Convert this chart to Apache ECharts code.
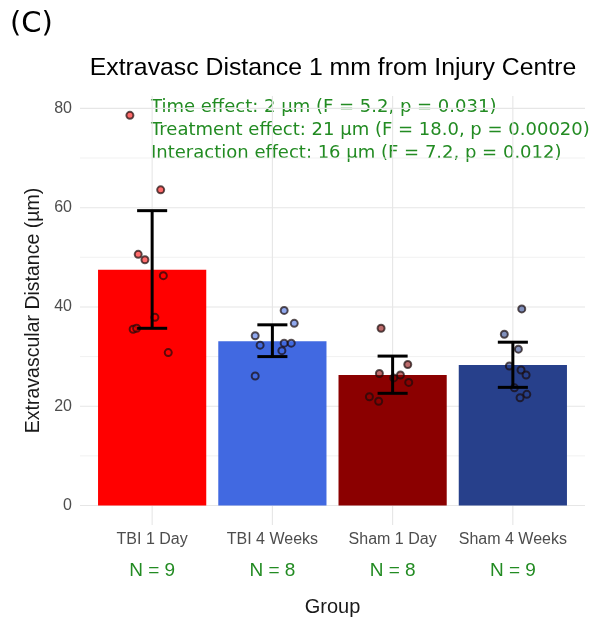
<!DOCTYPE html>
<html>
<head>
<meta charset="utf-8">
<script src="https://cdn.jsdelivr.net/npm/echarts@6/dist/echarts.min.js"></script>
<style>
  html, body { margin: 0; padding: 0; background: #ffffff; }
  #chart { width: 592px; height: 622px; }
</style>
</head>
<body>
<div id="chart"></div>
<script>
// Groups and their summary statistics (extravascular distance, µm)
const categories = ['TBI 1 Day', 'TBI 4 Weeks', 'Sham 1 Day', 'Sham 4 Weeks'];
const groupSizes = [9, 8, 8, 9];
const groupMeans = [47.5, 33.1, 26.3, 28.3];
const ciLower = [35.7, 30.0, 22.6, 23.8];
const ciUpper = [59.4, 36.4, 30.1, 32.9];

// Individual animals per group
const tbi1DayValues = [78.6, 63.6, 50.6, 49.5, 46.3, 37.9, 35.5, 35.7, 30.8];
const tbi4WeeksValues = [39.3, 36.7, 34.2, 32.3, 32.7, 32.7, 31.2, 26.1];
const sham1DayValues = [35.7, 28.4, 26.6, 26.3, 25.7, 24.8, 21.9, 21.0];
const sham4WeeksValues = [39.6, 34.5, 31.5, 28.1, 27.3, 26.3, 23.7, 22.4, 21.7];

// Horizontal jitter of each point, in category units
const tbi1DayJitter = [-0.185, 0.071, -0.116, -0.060, 0.093, 0.023, -0.158, -0.129, 0.134];
const tbi4WeeksJitter = [0.098, 0.182, -0.143, -0.102, 0.098, 0.157, 0.079, -0.143];
const sham1DayJitter = [-0.096, 0.126, -0.110, 0.065, 0.009, 0.134, -0.193, -0.116];
const sham4WeeksJitter = [0.074, -0.071, 0.046, -0.029, 0.068, 0.110, 0.013, 0.116, 0.060];

const yMajorTicks = [0, 20, 40, 60, 80];
const yMinorTicks = [10, 30, 50, 70];

const effectLines = [
  'Time effect: 2 µm (F = 5.2, p = 0.031)',
  'Treatment effect: 21 µm (F = 18.0, p = 0.00020)',
  'Interaction effect: 16 µm (F = 7.2, p = 0.012)'
];

// ---- styling / layout ----
const barColors = ['#FF0000', '#4169E1', '#8B0000', '#27408B'];
const pointFills = ['rgba(255,0,0,0.72)', 'rgba(65,105,225,0.72)', 'rgba(139,0,0,0.72)', 'rgba(39,64,139,0.72)'];
const X_MIN = 0.4, X_MAX = 4.6;
const Y_MIN = -3.93, Y_MAX = 82.5;
const BAR_HALF = 0.45;
const CAP_HALF = 0.125;
const GREEN = '#228B22';
const SANS = '"Liberation Sans", Arial, sans-serif';
const DEJAVU = '"DejaVu Sans", sans-serif';

const groupValues = [tbi1DayValues, tbi4WeeksValues, sham1DayValues, sham4WeeksValues];
const groupJitter = [tbi1DayJitter, tbi4WeeksJitter, sham1DayJitter, sham4WeeksJitter];

const chart = echarts.init(document.getElementById('chart'), null, { renderer: 'canvas' });

function gridColorFor(isMajor) { return isMajor ? '#e6e6e6' : '#eeeeee'; }

const hGridData = yMajorTicks.map(v => [1, v, 1]).concat(yMinorTicks.map(v => [1, v, 0]));
const vGridData = categories.map((c, i) => [i + 1, 0]);

const series = [
  {
    // horizontal panel grid
    type: 'custom',
    silent: true,
    z: 0,
    data: hGridData,
    renderItem(params, api) {
      const v = api.value(1);
      const a = api.coord([X_MIN, v]);
      const b = api.coord([X_MAX, v]);
      const major = api.value(2) === 1;
      return {
        type: 'line',
        shape: { x1: a[0], y1: a[1], x2: b[0], y2: b[1] },
        style: { stroke: gridColorFor(major), lineWidth: major ? 1.1 : 0.8 }
      };
    }
  },
  {
    // vertical panel grid at each group
    type: 'custom',
    silent: true,
    z: 0,
    data: vGridData,
    renderItem(params, api) {
      const x = api.value(0);
      const a = api.coord([x, Y_MIN]);
      const b = api.coord([x, Y_MAX]);
      return {
        type: 'line',
        shape: { x1: a[0], y1: a[1], x2: b[0], y2: b[1] },
        style: { stroke: '#e6e6e6', lineWidth: 1.1 }
      };
    }
  },
  {
    // group mean bars
    type: 'custom',
    z: 2,
    data: groupMeans.map((m, i) => [i + 1, m]),
    renderItem(params, api) {
      const x = api.value(0);
      const y = api.value(1);
      const p0 = api.coord([x - BAR_HALF, 0]);
      const p1 = api.coord([x + BAR_HALF, y]);
      return {
        type: 'rect',
        shape: { x: p0[0], y: p1[1], width: p1[0] - p0[0], height: p0[1] - p1[1] },
        style: { fill: barColors[params.dataIndex] }
      };
    }
  },
  {
    // 95% confidence interval whiskers
    type: 'custom',
    z: 4,
    data: ciLower.map((lo, i) => [i + 1, lo, ciUpper[i]]),
    renderItem(params, api) {
      const x = api.value(0);
      const lo = api.coord([x, api.value(1)]);
      const hi = api.coord([x, api.value(2)]);
      const capL = api.coord([x - CAP_HALF, api.value(1)])[0];
      const capR = api.coord([x + CAP_HALF, api.value(1)])[0];
      const st = { stroke: '#000', lineWidth: 3 };
      return {
        type: 'group',
        children: [
          { type: 'line', shape: { x1: lo[0], y1: lo[1], x2: hi[0], y2: hi[1] }, style: st },
          { type: 'line', shape: { x1: capL, y1: lo[1], x2: capR, y2: lo[1] }, style: st },
          { type: 'line', shape: { x1: capL, y1: hi[1], x2: capR, y2: hi[1] }, style: st }
        ]
      };
    }
  }
];

groupValues.forEach((vals, g) => {
  series.push({
    type: 'scatter',
    z: 3,
    symbol: 'circle',
    symbolSize: 7,
    itemStyle: { color: pointFills[g], borderColor: 'rgba(25,12,12,0.88)', borderWidth: 2 },
    data: vals.map((v, k) => [g + 1 + groupJitter[g][k], v])
  });
});

const option = {
  backgroundColor: '#ffffff',
  animation: false,
  grid: { left: 80, right: 7, top: 96, bottom: 97, containLabel: false },
  xAxis: {
    type: 'value',
    min: X_MIN,
    max: X_MAX,
    axisLine: { show: false },
    axisTick: { show: false },
    splitLine: { show: false },
    name: 'Group',
    nameLocation: 'middle',
    nameGap: 72,
    nameTextStyle: { fontFamily: SANS, fontSize: 20, color: '#1a1a1a' },
    axisLabel: {
      customValues: categories.map((c, i) => i + 1),
      margin: 3,
      formatter: v => '{cat|' + categories[Math.round(v) - 1] + '}\n{n|N = ' + groupSizes[Math.round(v) - 1] + '}',
      rich: {
        cat: { fontFamily: SANS, fontSize: 16, color: '#4d4d4d', lineHeight: 24 },
        n: { fontFamily: SANS, fontSize: 19, color: GREEN, lineHeight: 38 }
      }
    }
  },
  yAxis: {
    type: 'value',
    min: Y_MIN,
    max: Y_MAX,
    axisLine: { show: false },
    axisTick: { show: false },
    splitLine: { show: false },
    name: 'Extravascular Distance (µm)',
    nameLocation: 'middle',
    nameGap: 35,
    nameTextStyle: { fontFamily: SANS, fontSize: 19.5, color: '#1a1a1a' },
    axisLabel: {
      customValues: yMajorTicks,
      margin: 8,
      fontFamily: SANS,
      fontSize: 16,
      color: '#4d4d4d'
    }
  },
  graphic: [
    {
      type: 'text', x: 10, y: 24,
      style: { text: '(C)', font: '29px ' + DEJAVU, fill: '#000', align: 'left', verticalAlign: 'middle' }
    },
    {
      type: 'text', x: 333, y: 68,
      style: { text: 'Extravasc Distance 1 mm from Injury Centre', font: '24.8px ' + SANS, fill: '#000', align: 'center', verticalAlign: 'middle' }
    },
    {
      type: 'text', x: 151, y: 96,
      style: { text: effectLines.join('\n'), font: '18px ' + DEJAVU, lineHeight: 23, fill: GREEN, align: 'left', verticalAlign: 'top' }
    }
  ],
  series: series
};

chart.setOption(option);
</script>
</body>
</html>
